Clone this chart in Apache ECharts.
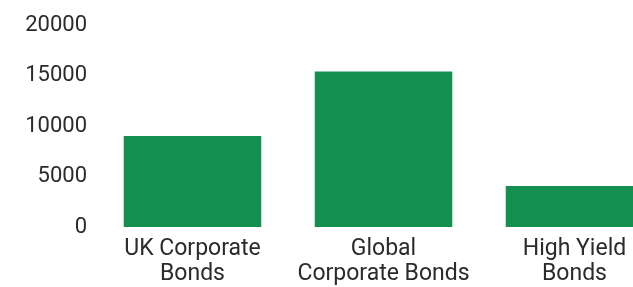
<!DOCTYPE html>
<html>
<head>
<meta charset="utf-8">
<script src="https://cdn.jsdelivr.net/npm/echarts@6/dist/echarts.min.js"></script>
<style>
  html, body { margin: 0; padding: 0; background: #fff; overflow: hidden; }
  #chart { width: 670px; height: 287px; }
</style>
</head>
<body>
<div id="chart"></div>
<script>
  // 类目 / 数值
  const categories = ['UK Corporate\nBonds', 'Global\nCorporate Bonds', 'High Yield\nBonds'];
  const values = [9000, 15400, 4050];
  const yTicks = [0, 5000, 10000, 15000, 20000];

  const chart = echarts.init(document.getElementById('chart'));
  chart.setOption({
    animation: false,
    grid: { // 边框距离
      top: 25,
      left: 97,
      right: 0,
      bottom: 57
    },
    xAxis: {
      type: 'category',
      data: categories,
      axisLine: { show: false },
      axisTick: { show: false },
      axisLabel: {
        interval: 0,
        margin: 10,
        fontFamily: 'Roboto',
        fontSize: 23,
        lineHeight: 25,
        color: '#2b2b2b'
      }
    },
    yAxis: {
      type: 'value',
      min: yTicks[0],
      max: yTicks[yTicks.length - 1],
      interval: yTicks[1] - yTicks[0],
      splitLine: { show: false },
      axisLine: { show: false },
      axisTick: { show: false },
      axisLabel: {
        margin: 10,
        fontFamily: 'Roboto',
        fontSize: 22,
        color: '#2b2b2b',
        formatter: v => String(v)
      }
    },
    series: [
      {
        type: 'bar',
        data: values,
        barWidth: '72%',
        itemStyle: { color: '#138f50' }
      }
    ]
  });
</script>
</body>
</html>
